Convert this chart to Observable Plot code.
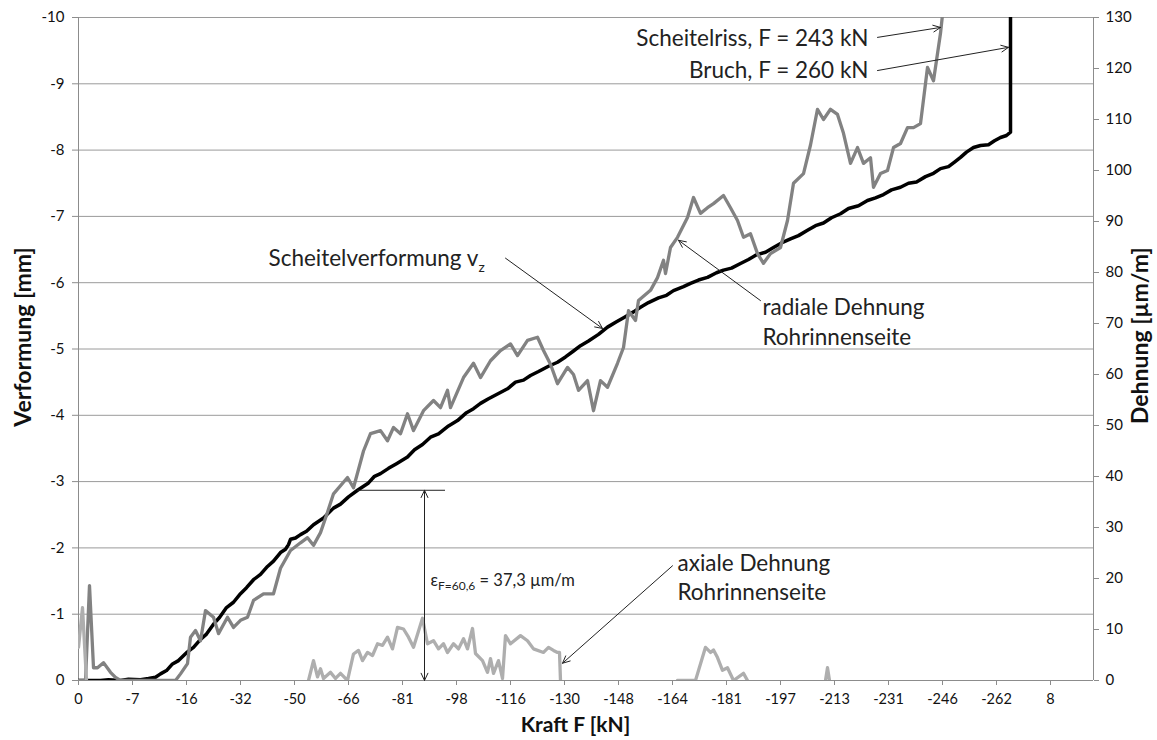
<!DOCTYPE html>
<html>
<head>
<meta charset="utf-8">
<script src="https://cdn.jsdelivr.net/npm/d3@7"></script>
<script src="https://cdn.jsdelivr.net/npm/@observablehq/plot@0.6"></script>
<style>
  html, body { margin: 0; padding: 0; background: #fff; }
  #chart svg { display: block; }
</style>
</head>
<body>
<div id="chart"></div>
<script>
// ---- Beschriftung der Kategorienachse (Kraft F an jedem 54. Messpunkt) ----
const kraftLabels = ["0","-7","-16","-32","-50","-66","-81","-98","-116","-130","-148","-164","-181","-197","-213","-231","-246","-262","8"];
const labelStep = 54;      // Messpunkte je Beschriftung
const nPoints = 1015;      // Anzahl Messpunkte

// ---- Scheitelverformung v_z [mm] (linke Achse) ----
const vzIndex = [0,22,30,42,50,62,70,77,82,88,94,100,108,115,122,128,135,141,148,155,162,168,175,182,189,195,202,207,210,212,217,222,228,235,245,255,262,270,279,290,296,302,310,318,329,336,344,352,360,370,379,388,395,402,410,420,429,437,445,452,460,470,479,487,495,502,510,520,529,538,546,555,562,570,580,588,595,605,612,620,629,638,645,653,662,670,678,687,695,703,712,720,729,737,745,753,762,770,780,789,797,805,813,822,830,838,847,855,862,870,876,882,888,895,902,910,916,922,928,932,932];
const vzMM    = [0,0,-0.01,0,-0.02,-0.01,-0.03,-0.05,-0.1,-0.15,-0.25,-0.3,-0.42,-0.5,-0.62,-0.7,-0.85,-0.95,-1.1,-1.18,-1.31,-1.4,-1.52,-1.6,-1.72,-1.8,-1.93,-1.98,-2.05,-2.13,-2.15,-2.2,-2.25,-2.35,-2.45,-2.6,-2.66,-2.77,-2.87,-2.98,-3.08,-3.12,-3.2,-3.27,-3.37,-3.48,-3.56,-3.67,-3.72,-3.84,-3.92,-4.04,-4.1,-4.18,-4.25,-4.33,-4.4,-4.5,-4.53,-4.6,-4.66,-4.74,-4.8,-4.88,-4.97,-5.05,-5.12,-5.22,-5.33,-5.41,-5.48,-5.56,-5.63,-5.7,-5.77,-5.81,-5.88,-5.94,-5.99,-6.04,-6.08,-6.15,-6.19,-6.22,-6.29,-6.35,-6.42,-6.46,-6.53,-6.6,-6.66,-6.71,-6.79,-6.86,-6.9,-6.98,-7.04,-7.12,-7.16,-7.24,-7.28,-7.33,-7.4,-7.44,-7.5,-7.52,-7.6,-7.65,-7.72,-7.75,-7.82,-7.89,-7.97,-8.04,-8.07,-8.08,-8.14,-8.19,-8.22,-8.27,-10];

// ---- radiale Dehnung Rohrinnenseite [µm/m] (rechte Achse) ----
const radIndex  = [0,7,11,15,19,25,32,37,42,97,102,109,112,117,122,127,135,140,149,155,162,169,175,185,195,202,212,222,229,235,242,249,255,269,275,285,292,302,309,315,322,329,335,345,355,362,369,372,385,395,402,412,422,432,439,449,459,465,472,479,489,495,500,509,515,522,529,539,545,550,557,560,572,579,585,587,592,599,609,615,622,629,635,645,652,659,665,672,679,685,692,702,709,715,725,732,739,745,752,759,765,772,779,785,792,795,802,809,815,822,829,835,842,849,855,862,867];
const radStrain = [0,0,18.6,2.5,2.5,3.5,1.6,0.6,0,0,1.3,3.3,8.5,9.8,7.8,13.7,12.4,9.2,12.4,10.4,11.8,12.4,15.7,17,17,22,25.5,27,28,26.5,29,33,36.6,39.8,37.8,45,48.4,49,47,49.6,48.4,52.3,49,52.9,54.9,53.5,56.9,53.5,59.4,62.2,59.4,62.7,64.7,66,63.7,66.7,67.3,64.7,62,58.2,61.4,60,56.9,58.8,52.9,58.8,57.5,62.2,65.3,72.5,70.6,74.5,76.5,79,82.4,79.8,84.9,86.9,90.8,94.7,91.6,92.7,93.5,95.1,92.7,90.2,86.9,87.6,83.7,81.8,83.7,84.9,90.2,97.5,99.4,105,112,110,112,111,107.3,101.4,104.5,101.4,102.5,96.7,99.4,100,104.5,105.3,108.4,108.4,109.2,120.2,117.6,126.9,136];

// ---- axiale Dehnung Rohrinnenseite [µm/m] (rechte Achse), null = Lücke ----
const axIndex  = [0,4,8,9,230,235,239,242,245,252,257,262,269,275,280,284,289,294,299,304,309,314,319,325,330,335,344,349,355,360,365,369,375,380,385,389,394,397,404,409,412,415,420,424,427,432,442,449,455,465,470,475,479,481,482,483,599,617,627,632,635,639,644,649,655,665,669,670,747,749,751];
const axStrain = [6.5,14.3,0,null,0,3.9,0.7,2.3,0.4,1.6,0.4,1.4,0,5.2,5.9,3.9,5.5,4.9,7.2,6.9,8.5,6.2,10.4,10.1,8.5,6.5,12.2,7.2,7.8,6.2,7.2,5.5,7.2,6.2,8.2,6.2,10.2,5.3,3.9,1.6,4.3,1.4,3.9,0.4,8.8,7.2,8.8,7.8,6.2,5.5,6.5,5.9,5.5,5.5,0,null,0,0,6.5,5.5,6,4.5,2,2.5,0,1.4,0,null,0,2.5,0];

// ---- Achsen ----
const mmTicks = [0,-1,-2,-3,-4,-5,-6,-7,-8,-9,-10];
const strainTicks = [0,10,20,30,40,50,60,70,80,90,100,110,120,130];
const strainPerMM = -13;   // 130 µm/m entsprechen -10 mm

// ---- Anmerkungen ----
const epsValue = 37.3;     // µm/m bei F = 60,6 kN
const epsIndex = 346;

// Tabellen für die Marken
const vz = vzIndex.map((i, k) => ({i, v: vzMM[k]}));
const rad = radIndex.map((i, k) => ({i, v: radStrain[k] == null ? null : radStrain[k] / strainPerMM}));
const ax = axIndex.map((i, k) => ({i, v: axStrain[k] == null ? null : axStrain[k] / strainPerMM}));
const epsMM = epsValue / strainPerMM;

const font = "Lato, 'Open Sans', sans-serif";
const labelFont = 22.5;
const textColor = "#222";

const chart = Plot.plot({
  width: 1157,
  height: 740,
  marginLeft: 78,
  marginRight: 64,
  marginTop: 17,
  marginBottom: 60,
  style: {fontFamily: font, fontSize: "14px", color: "#111", background: "#fff"},
  x: {domain: [0, nPoints], axis: null},
  y: {domain: [0, -10], axis: null},
  marks: [
    Plot.gridY(mmTicks.slice(1), {stroke: "#9a9a9a", strokeOpacity: 1, strokeWidth: 1}),
    Plot.ruleX([0], {stroke: "#8c8c8c"}),
    Plot.ruleX([nPoints], {stroke: "#8c8c8c"}),
    Plot.ruleY([0], {stroke: "#8c8c8c"}),
    Plot.axisX({ticks: kraftLabels.map((_, k) => k * labelStep), tickFormat: (d) => kraftLabels[Math.round(d / labelStep)], tickSize: 5, tickPadding: 8, stroke: "#8c8c8c", fontSize: 14.5, label: null}),
    Plot.axisY({anchor: "left", ticks: mmTicks, tickFormat: (d) => String(d), tickSize: 6, tickPadding: 8, stroke: "#8c8c8c", fontSize: 15, label: null}),
    Plot.axisY({anchor: "right", ticks: strainTicks.map((t) => t / strainPerMM), tickFormat: (d) => String(Math.round(d * strainPerMM)), tickSize: 5, tickPadding: 7, stroke: "#8c8c8c", fontSize: 15, label: null}),

    Plot.line(vz, {x: "i", y: "v", stroke: "#000", strokeWidth: 3.5, strokeLinejoin: "round", clip: true}),
    Plot.line(rad, {x: "i", y: "v", stroke: "#828282", strokeWidth: 3.3, strokeLinejoin: "round", clip: true}),
    Plot.line(ax, {x: "i", y: "v", stroke: "#aeaeae", strokeWidth: 3.3, strokeLinejoin: "round", clip: true}),

    // Bemaßung ε
    Plot.ruleY([epsMM], {x1: 279, x2: 367, stroke: "#222", strokeWidth: 1}),
    Plot.arrow([{x1: epsIndex, y1: epsMM / 2, x2: epsIndex, y2: 0}, {x1: epsIndex, y1: epsMM / 2, x2: epsIndex, y2: epsMM}],
      {x1: "x1", y1: "y1", x2: "x2", y2: "y2", stroke: "#222", strokeWidth: 1, headLength: 12, headAngle: 50}),

    // Zeigerpfeile
    Plot.arrow([
      {x1: 799, y1: -9.70, x2: 862, y2: -9.85},
      {x1: 799, y1: -9.20, x2: 930, y2: -9.55},
      {x1: 427, y1: -6.37, x2: 524, y2: -5.31},
      {x1: 682, y1: -5.73, x2: 600, y2: -6.64},
      {x1: 594, y1: -1.73, x2: 484, y2: -0.26}
    ], {x1: "x1", y1: "y1", x2: "x2", y2: "y2", stroke: "#222", strokeWidth: 1, headLength: 12, headAngle: 50}),

    // Texte
    Plot.text(["Scheitelriss, F = 243 kN"], {x: 790, y: -9.68, textAnchor: "end", fontSize: labelFont, fill: textColor}),
    Plot.text(["Bruch, F = 260 kN"], {x: 790, y: -9.20, textAnchor: "end", fontSize: labelFont, fill: textColor}),
    Plot.text(["Scheitelverformung v"], {x: 190, y: -6.36, textAnchor: "start", fontSize: labelFont, fill: textColor}),
    Plot.text(["radiale Dehnung\nRohrinnenseite"], {x: 684, y: -5.43, textAnchor: "start", fontSize: labelFont, lineHeight: 1.35, fill: textColor}),
    Plot.text(["axiale Dehnung\nRohrinnenseite"], {x: 599, y: -1.57, textAnchor: "start", fontSize: labelFont, lineHeight: 1.28, fill: textColor}),
    Plot.text(["εF=60,6 = 37,3 µm/m"], {x: 352, y: -1.51, textAnchor: "start", fontSize: 16.5, fill: textColor}),

    // Achsentitel
    Plot.text(["Verformung [mm]"], {x: -55, y: -5.18, rotate: -90, fontSize: 23, fontWeight: "bold", fill: "#111"}),
    Plot.text(["Dehnung [µm/m]"], {x: 1062, y: -5.2, rotate: -90, fontSize: 23, fontWeight: "bold", fill: "#111"}),
    Plot.text(["Kraft F [kN]"], {x: 497, y: 0.68, fontSize: 21, fontWeight: "bold", fill: "#111"})
  ]
});

// Tiefgestellte Zeichen
d3.select(chart).selectAll("text").each(function () {
  const t = this.textContent;
  const sel = d3.select(this);
  if (t === "Scheitelverformung v") {
    sel.append("tspan").attr("font-size", 14).attr("dy", 6).text("z");
  } else if (t === "εF=60,6 = 37,3 µm/m") {
    sel.text(null);
    sel.append("tspan").text("ε");
    sel.append("tspan").attr("font-size", 12).attr("dy", 4).text("F=60,6");
    sel.append("tspan").attr("dy", -4).text(" = 37,3 µm/m");
  }
});

document.getElementById("chart").appendChild(chart);
</script>
</body>
</html>
